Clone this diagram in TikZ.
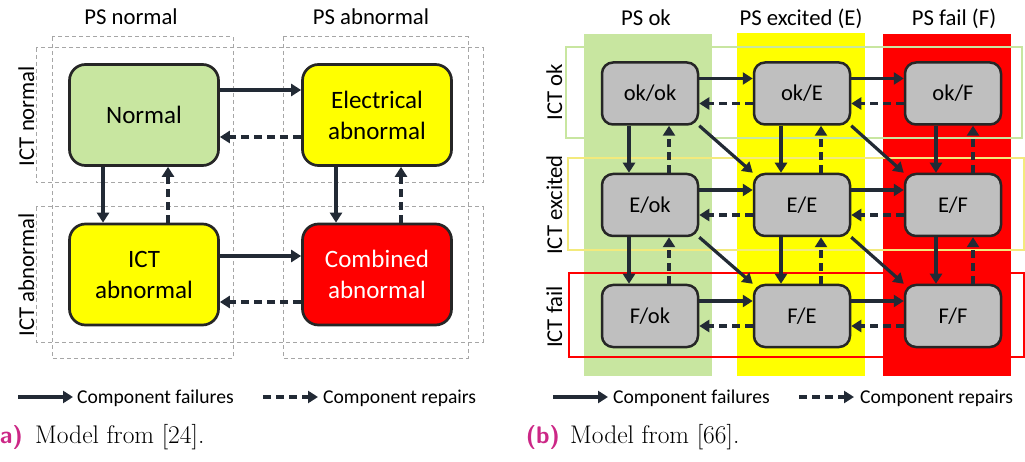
\documentclass[tikz,border=0pt]{standalone}
\usepackage{fontspec}
\newfontfamily\calibri{Carlito}
\usetikzlibrary{arrows.meta}

\definecolor{psgreen}{HTML}{C8E6A0}
\definecolor{psyellow}{HTML}{FFFF00}
\definecolor{psred}{HTML}{FF0000}
\definecolor{boxgray}{HTML}{BFBFBF}
\definecolor{boxline}{HTML}{262626}
\definecolor{arrowdark}{HTML}{222A35}
\definecolor{frameyellow}{HTML}{F3EA7C}
\definecolor{captionpink}{RGB}{204,39,134}

\tikzset{
    bigstate/.style={draw=boxline, line width=2.7pt, rounded corners=16pt,
        minimum width=149pt, minimum height=101pt, align=center,
        font=\calibri\fontsize{25}{31}\selectfont},
    smallstate/.style={draw=boxline, fill=boxgray, line width=2.5pt, rounded corners=11pt,
        minimum width=96pt, minimum height=62pt,
        font=\calibri\fontsize{22.5}{27}\selectfont},
    failarrow/.style={draw=arrowdark, line width=3.2pt, -{Triangle[length=10pt,width=12pt]}},
    repairarrow/.style={failarrow, dash pattern=on 8pt off 5pt},
    grayframe/.style={draw=gray!70, line width=1pt, dash pattern=on 4pt off 3pt},
    headtext/.style={font=\calibri\fontsize{22.7}{27}\selectfont, inner sep=0pt},
    legtext/.style={font=\calibri\fontsize{19.6}{24}\selectfont, inner sep=0pt},
    captext/.style={font=\fontsize{25.5}{30}\selectfont, inner sep=0pt},
    caplabel/.style={font=\sffamily\bfseries\fontsize{24}{28}\selectfont, text=captionpink, inner sep=0pt}
}

\begin{document}
\begin{tikzpicture}[x=1pt, y=-1pt]
    \useasboundingbox (0,0) rectangle (1025,462);

    % ---- (a) ----
    % dashed blocks
    \draw[grayframe] (52,37) rectangle (233,358);
    \draw[grayframe] (283,37) rectangle (468,358);
    \draw[grayframe] (36,48) rectangle (483,183);
    \draw[grayframe] (36,207) rectangle (483,342);

    \node[headtext, anchor=base] (psnormal) at (131,25) {PS normal};
    \node[headtext, anchor=base] (psabnormal) at (371,25) {PS abnormal};
    \node[headtext, anchor=base, rotate=90] (ictnormal) at (34,116) {ICT normal};
    \node[headtext, anchor=base, rotate=90] (ictabnormal) at (34,275) {ICT abnormal};

    \node[bigstate, fill=psgreen] (normal) at (144,115) {Normal};
    \node[bigstate, fill=psyellow] (elec) at (377,115) {Electrical\\abnormal};
    \node[bigstate, fill=psyellow] (ict) at (144,274.5) {ICT\\abnormal};
    \node[bigstate, fill=psred, text=white] (comb) at (377,274.5) {Combined\\abnormal};

    \draw[failarrow] ([yshift=25pt]normal.east) -- ([yshift=25pt]elec.west);
    \draw[repairarrow] ([yshift=-22pt]elec.west) -- ([yshift=-22pt]normal.east);
    \draw[failarrow] ([yshift=18.5pt]ict.east) -- ([yshift=18.5pt]comb.west);
    \draw[repairarrow] ([yshift=-27.5pt]comb.west) -- ([yshift=-27.5pt]ict.east);
    \draw[failarrow] ([xshift=-41pt]normal.south) -- ([xshift=-41pt]ict.north);
    \draw[repairarrow] ([xshift=24pt]ict.north) -- ([xshift=24pt]normal.south);
    \draw[failarrow] ([xshift=-41pt]elec.south) -- ([xshift=-41pt]comb.north);
    \draw[repairarrow] ([xshift=24pt]comb.north) -- ([xshift=24pt]elec.south);

    % legend and caption
    \coordinate (afail) at (18,397);
    \coordinate (afailend) at (73,397);
    \node[legtext, anchor=base west] (afailtext) at (77,403) {Component failures};
    \draw[failarrow] (afail) -- (afailend);
    \coordinate (arep) at (263,397);
    \coordinate (arepend) at (318,397);
    \node[legtext, anchor=base west] (areptext) at (323,403) {Component repairs};
    \draw[repairarrow] (arep) -- (arepend);

    \node[caplabel, anchor=base east] (alabel) at (23,443) {(a)};
    \node[captext, anchor=base west] (acap) at (35,443) {Model from [24].};

    % ---- (b) ----
    % PS columns
    \fill[psgreen] (584,34) rectangle (712,376);
    \fill[psyellow] (737,33) rectangle (865,376);
    \fill[psred] (883,34) rectangle (1011,376);
    % ICT rows
    \draw[psgreen, line width=2pt] (566,47) rectangle (1022,138);
    \draw[frameyellow, line width=2pt] (568,158) rectangle (1024,250);
    \draw[psred, line width=2pt] (569,273) rectangle (1024,357);

    \node[headtext, anchor=base] (psok) at (646,26) {PS ok};
    \node[headtext, anchor=base] (psexc) at (801,26) {PS excited (E)};
    \node[headtext, anchor=base] (psfail) at (954,26) {PS fail (F)};
    \node[headtext, anchor=base, rotate=90] (ictok) at (562,92) {ICT ok};
    \node[headtext, anchor=base, rotate=90] (ictexc) at (562,205) {ICT excited};
    \node[headtext, anchor=base, rotate=90] (ictfail) at (562,317) {ICT fail};

    \node[smallstate] (okok) at (650,93.5) {ok/ok};
    \node[smallstate] (okE) at (802,93.5) {ok/E};
    \node[smallstate] (okF) at (953,93.5) {ok/F};
    \node[smallstate] (Eok) at (650,205) {E/ok};
    \node[smallstate] (EE) at (802,205) {E/E};
    \node[smallstate] (EF) at (953,205) {E/F};
    \node[smallstate] (Fok) at (650,316) {F/ok};
    \node[smallstate] (FE) at (802,316) {F/E};
    \node[smallstate] (FF) at (953,316) {F/F};

    % horizontal
    \draw[failarrow] ([yshift=15pt]okok.east) -- ([yshift=15pt]okE.west);
    \draw[repairarrow] ([yshift=-10pt]okE.west) -- ([yshift=-10pt]okok.east);
    \draw[failarrow] ([yshift=15pt]okE.east) -- ([yshift=15pt]okF.west);
    \draw[repairarrow] ([yshift=-10pt]okF.west) -- ([yshift=-10pt]okE.east);
    \draw[failarrow] ([yshift=15pt]Eok.east) -- ([yshift=15pt]EE.west);
    \draw[repairarrow] ([yshift=-10pt]EE.west) -- ([yshift=-10pt]Eok.east);
    \draw[failarrow] ([yshift=15pt]EE.east) -- ([yshift=15pt]EF.west);
    \draw[repairarrow] ([yshift=-10pt]EF.west) -- ([yshift=-10pt]EE.east);
    \draw[failarrow] ([yshift=15pt]Fok.east) -- ([yshift=15pt]FE.west);
    \draw[repairarrow] ([yshift=-10pt]FE.west) -- ([yshift=-10pt]Fok.east);
    \draw[failarrow] ([yshift=15pt]FE.east) -- ([yshift=15pt]FF.west);
    \draw[repairarrow] ([yshift=-10pt]FF.west) -- ([yshift=-10pt]FE.east);
    % vertical
    \draw[failarrow] ([xshift=-21pt]okok.south) -- ([xshift=-21pt]Eok.north);
    \draw[repairarrow] ([xshift=19pt]Eok.north) -- ([xshift=19pt]okok.south);
    \draw[failarrow] ([xshift=-21pt]okE.south) -- ([xshift=-21pt]EE.north);
    \draw[repairarrow] ([xshift=19pt]EE.north) -- ([xshift=19pt]okE.south);
    \draw[failarrow] ([xshift=-17pt]okF.south) -- ([xshift=-17pt]EF.north);
    \draw[repairarrow] ([xshift=20pt]EF.north) -- ([xshift=20pt]okF.south);
    \draw[failarrow] ([xshift=-21pt]Eok.south) -- ([xshift=-21pt]Fok.north);
    \draw[repairarrow] ([xshift=19pt]Fok.north) -- ([xshift=19pt]Eok.south);
    \draw[failarrow] ([xshift=-21pt]EE.south) -- ([xshift=-21pt]FE.north);
    \draw[repairarrow] ([xshift=19pt]FE.north) -- ([xshift=19pt]EE.south);
    \draw[failarrow] ([xshift=-17pt]EF.south) -- ([xshift=-17pt]FF.north);
    \draw[repairarrow] ([xshift=20pt]FF.north) -- ([xshift=20pt]EF.south);
    % diagonal
    \draw[failarrow] (okok.south east) -- (EE.north west);
    \draw[failarrow] (okE.south east) -- (EF.north west);
    \draw[failarrow] (Eok.south east) -- (FE.north west);
    \draw[failarrow] (EE.south east) -- (FF.north west);

    % legend and caption
    \coordinate (bfail) at (553,397);
    \coordinate (bfailend) at (608,397);
    \node[legtext, anchor=base west] (bfailtext) at (613,403) {Component failures};
    \draw[failarrow] (bfail) -- (bfailend);
    \coordinate (brep) at (799,397);
    \coordinate (brepend) at (854,397);
    \node[legtext, anchor=base west] (breptext) at (860,403) {Component repairs};
    \draw[repairarrow] (brep) -- (brepend);

    \node[caplabel, anchor=base east] (blabel) at (560,443) {(b)};
    \node[captext, anchor=base west] (bcap) at (570,443) {Model from [66].};
\end{tikzpicture}
\end{document}
